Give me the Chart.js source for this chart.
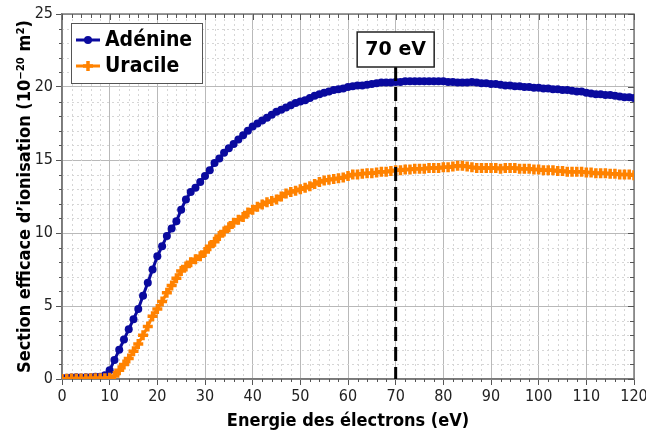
<!DOCTYPE html>
<html>
<head>
<meta charset="utf-8">
<script src="https://cdn.jsdelivr.net/npm/chart.js@4.4.1/dist/chart.umd.min.js"></script>
<style>
  html, body { margin: 0; padding: 0; background: #fff; }
</style>
</head>
<body>
<canvas id="chart" width="646" height="434"></canvas>
<script>
// energies (eV)
const energies = [
  0,1,2,3,4,5,6,7,8,9,10,11,12,13,14,15,16,17,18,19,20,
  21,22,23,24,25,26,27,28,29,30,31,32,33,34,35,36,37,38,39,40,
  41,42,43,44,45,46,47,48,49,50,51,52,53,54,55,56,57,58,59,60,
  61,62,63,64,65,66,67,68,69,70,71,72,73,74,75,76,77,78,79,80,
  81,82,83,84,85,86,87,88,89,90,91,92,93,94,95,96,97,98,99,100,
  101,102,103,104,105,106,107,108,109,110,111,112,113,114,115,116,117,118,119,120
];

// cross sections (10^-20 m2)
const adenine = [
  0.05,0.08,0.1,0.12,0.1,0.12,0.12,0.15,0.15,0.25,0.6,
  1.3,2.0,2.7,3.4,4.1,4.8,5.7,6.6,7.5,8.4,
  9.1,9.8,10.3,10.8,11.6,12.3,12.8,13.1,13.5,13.9,
  14.3,14.8,15.1,15.5,15.8,16.1,16.4,16.7,17.0,17.3,
  17.5,17.7,17.9,18.1,18.3,18.45,18.6,18.75,18.9,19.0,
  19.1,19.25,19.4,19.5,19.6,19.7,19.8,19.85,19.9,20.0,
  20.05,20.1,20.1,20.15,20.2,20.25,20.3,20.3,20.3,20.35,
  20.35,20.4,20.4,20.4,20.4,20.4,20.4,20.4,20.4,20.4,
  20.35,20.35,20.3,20.3,20.3,20.35,20.3,20.25,20.25,20.2,
  20.2,20.15,20.1,20.1,20.05,20.05,20.0,20.0,19.95,19.95,
  19.9,19.9,19.85,19.85,19.8,19.8,19.75,19.7,19.7,19.6,
  19.55,19.5,19.5,19.45,19.45,19.4,19.35,19.3,19.3,19.25
];
const uracile = [
  0.0,0.02,0.03,0.03,0.04,0.04,0.05,0.05,0.05,0.05,0.08,
  0.2,0.6,1.0,1.4,1.9,2.4,3.0,3.6,4.3,4.8,
  5.3,5.9,6.4,6.9,7.4,7.7,8.0,8.2,8.4,8.7,
  9.1,9.4,9.8,10.1,10.4,10.7,10.9,11.1,11.4,11.6,
  11.8,11.95,12.1,12.2,12.3,12.5,12.7,12.8,12.9,13.0,
  13.1,13.2,13.35,13.5,13.6,13.65,13.7,13.75,13.8,13.9,
  14.0,14.0,14.05,14.1,14.1,14.15,14.2,14.2,14.25,14.3,
  14.3,14.35,14.35,14.4,14.4,14.4,14.45,14.45,14.45,14.5,
  14.5,14.55,14.6,14.6,14.55,14.5,14.45,14.45,14.45,14.45,
  14.45,14.4,14.45,14.45,14.45,14.4,14.4,14.4,14.35,14.35,
  14.3,14.3,14.3,14.25,14.25,14.2,14.2,14.2,14.2,14.15,
  14.15,14.1,14.1,14.1,14.05,14.05,14.0,14.0,14.0,13.95
];

const seriesNames = ['Adénine', 'Uracile'];
const markerEnergy = 70;
const markerLabel = '70 eV';
const xTitle = 'Energie des électrons (eV)';
const yTitle = 'Section efficace d\u2019ionisation (10\u207B\u00B2\u2070 m\u00B2)';

const BLUE = '#0a0a9e';
const ORANGE = '#ff8200';
const TICK_FONT = { family: 'DejaVu Sans Condensed', size: 16 };
const TITLE_FONT = { family: 'DejaVu Sans Condensed', size: 18, weight: 'bold' };

function pairs(vals) {
  return energies.map((e, i) => ({ x: e, y: vals[i] }));
}

// minor grid, frame, inside ticks, legend box and 70 eV marker
const decorations = {
  id: 'decorations',
  beforeDatasetsDraw(chart) {
    const { ctx, chartArea: a, scales: { x, y } } = chart;
    ctx.save();
    // minor dotted grid
    ctx.strokeStyle = '#d6d6d6';
    ctx.lineWidth = 1;
    ctx.setLineDash([2, 3]);
    for (let e = 2; e < 120; e += 2) {
      if (e % 10 === 0) continue;
      const px = Math.round(x.getPixelForValue(e)) + 0.5;
      ctx.beginPath(); ctx.moveTo(px, a.top); ctx.lineTo(px, a.bottom); ctx.stroke();
    }
    for (let v = 1; v < 25; v++) {
      if (v % 5 === 0) continue;
      const py = Math.round(y.getPixelForValue(v)) + 0.5;
      ctx.beginPath(); ctx.moveTo(a.left, py); ctx.lineTo(a.right, py); ctx.stroke();
    }
    ctx.setLineDash([]);
    // frame
    ctx.strokeStyle = '#7a7a7a';
    ctx.lineWidth = 1.5;
    ctx.strokeRect(a.left, a.top, a.right - a.left, a.bottom - a.top);
    // ticks: minor outside, inside on top/right
    ctx.strokeStyle = '#555';
    ctx.lineWidth = 1;
    for (let e = 0; e <= 120; e += 2) {
      const px = Math.round(x.getPixelForValue(e)) + 0.5;
      const len = e % 10 === 0 ? 6 : 4;
      ctx.beginPath(); ctx.moveTo(px, a.top); ctx.lineTo(px, a.top + len); ctx.stroke();
      if (e % 10 !== 0) {
        ctx.beginPath(); ctx.moveTo(px, a.bottom); ctx.lineTo(px, a.bottom + 3); ctx.stroke();
      }
    }
    for (let v = 0; v <= 25; v++) {
      const py = Math.round(y.getPixelForValue(v)) + 0.5;
      const len = v % 5 === 0 ? 6 : 4;
      ctx.beginPath(); ctx.moveTo(a.right, py); ctx.lineTo(a.right - len, py); ctx.stroke();
      if (v % 5 !== 0) {
        ctx.beginPath(); ctx.moveTo(a.left, py); ctx.lineTo(a.left - 3, py); ctx.stroke();
      }
    }
    ctx.restore();
  },
  afterDatasetsDraw(chart) {
    const { ctx, chartArea: a, scales: { x } } = chart;
    ctx.save();
    // 70 eV marker
    const mx = x.getPixelForValue(markerEnergy);
    const boxTop = a.top + 18, boxH = 35, boxW = 77;
    ctx.strokeStyle = '#000';
    ctx.lineWidth = 3;
    ctx.setLineDash([14, 6]);
    ctx.beginPath(); ctx.moveTo(mx, boxTop + boxH); ctx.lineTo(mx, a.bottom); ctx.stroke();
    ctx.setLineDash([]);
    ctx.fillStyle = '#fff';
    ctx.fillRect(mx - boxW / 2, boxTop, boxW, boxH);
    ctx.lineWidth = 1.5;
    ctx.strokeStyle = '#222';
    ctx.strokeRect(mx - boxW / 2, boxTop, boxW, boxH);
    ctx.fillStyle = '#000';
    ctx.font = 'bold 19px "DejaVu Sans"';
    ctx.textAlign = 'center';
    ctx.textBaseline = 'middle';
    ctx.fillText(markerLabel, mx, boxTop + boxH / 2 + 1);

    // legend
    const lx = a.left + 9, ly = a.top + 9, lw = 131, lh = 60;
    ctx.fillStyle = '#fff';
    ctx.fillRect(lx, ly, lw, lh);
    ctx.strokeStyle = '#555';
    ctx.lineWidth = 1;
    ctx.strokeRect(lx + 0.5, ly + 0.5, lw, lh);
    const colors = [BLUE, ORANGE];
    ctx.font = 'bold 21px "DejaVu Sans Condensed"';
    ctx.textAlign = 'left';
    seriesNames.forEach((name, i) => {
      const yy = ly + 17 + i * 26;
      ctx.strokeStyle = colors[i];
      ctx.lineWidth = 3;
      ctx.beginPath(); ctx.moveTo(lx + 5, yy); ctx.lineTo(lx + 29, yy); ctx.stroke();
      ctx.fillStyle = colors[i];
      if (i === 0) {
        ctx.beginPath(); ctx.arc(lx + 17, yy, 4, 0, Math.PI * 2); ctx.fill();
      } else {
        ctx.lineWidth = 3.5;
        ctx.beginPath();
        ctx.moveTo(lx + 12, yy); ctx.lineTo(lx + 22, yy);
        ctx.moveTo(lx + 17, yy - 5); ctx.lineTo(lx + 17, yy + 5);
        ctx.stroke();
      }
      ctx.fillStyle = '#000';
      ctx.fillText(name, lx + 34, yy + 1);
    });
    ctx.restore();
  }
};

const ctx = document.getElementById('chart');

const chart = new Chart(ctx, {
  type: 'line',
  data: {
    datasets: [
      {
        label: seriesNames[1],
        data: pairs(uracile),
        borderColor: ORANGE,
        backgroundColor: ORANGE,
        borderWidth: 3,
        pointStyle: 'cross',
        pointRadius: 5,
        pointBorderWidth: 3.5,
        tension: 0
      },
      {
        label: seriesNames[0],
        data: pairs(adenine),
        borderColor: BLUE,
        backgroundColor: BLUE,
        borderWidth: 3,
        pointStyle: 'circle',
        pointRadius: 4,
        pointBorderWidth: 0,
        tension: 0
      }
    ]
  },
  options: {
    responsive: false,
    animation: false,
    layout: { padding: { top: 14, right: 12, left: 0, bottom: 0 } },
    plugins: { legend: { display: false }, tooltip: { enabled: false } },
    scales: {
      x: {
        type: 'linear',
        min: 0, max: 120,
        ticks: { stepSize: 10, font: TICK_FONT, color: '#222', padding: 2, maxRotation: 0 },
        grid: { color: '#b9b9b9', tickColor: '#555', tickLength: 6 },
        border: { color: '#7a7a7a', width: 1.5 },
        title: { display: true, text: xTitle, font: TITLE_FONT, color: '#000', padding: { top: 0, bottom: 2 } },
        afterFit(s) { s.height = 55; s.paddingLeft = 0; s.paddingRight = 0; }
      },
      y: {
        min: 0, max: 25,
        ticks: { stepSize: 5, font: TICK_FONT, color: '#222', padding: 3 },
        grid: { color: '#b9b9b9', tickColor: '#555', tickLength: 6 },
        border: { color: '#7a7a7a', width: 1.5 },
        title: { display: true, text: yTitle, font: TITLE_FONT, color: '#000', padding: { top: 15, bottom: 0 } },
        afterFit(s) { s.width = 62; s.paddingTop = 0; s.paddingBottom = 0; }
      }
    }
  },
  plugins: [decorations]
});
</script>
</body>
</html>
